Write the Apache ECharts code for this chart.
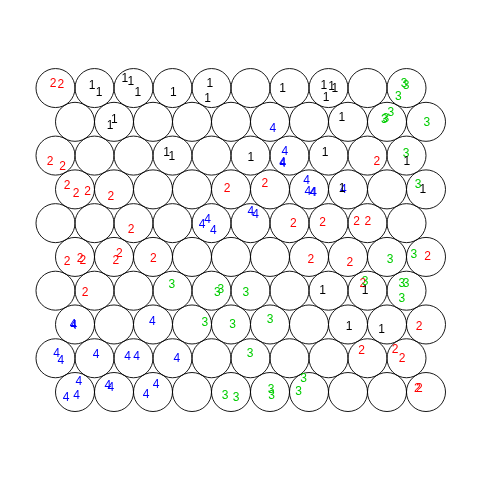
<!DOCTYPE html>
<html>
<head>
<meta charset="utf-8">
<script src="https://cdn.jsdelivr.net/npm/echarts@6/dist/echarts.min.js"></script>
<style>html,body{margin:0;padding:0;background:#fff}#c{width:480px;height:480px}</style>
</head>
<body>
<div id="c"></div>
<script>
// SOM grid size (hexagonal topology)
var xdim = 10;
var ydim = 10;

// class label of each mapped object
var classes = [
  2,2,1,1,1,1,1,1,1,1,1,1,1,1,1,3,3,3,
  1,1,4,1,3,3,3,3,
  2,2,1,1,1,4,4,4,1,2,3,1,
  2,2,2,2,2,2,4,4,4,4,4,1,3,1,
  2,4,4,4,4,4,2,2,2,2,
  2,2,2,2,2,2,2,2,3,3,2,
  2,3,3,3,3,1,2,3,1,3,3,3,
  4,4,4,3,3,3,1,1,2,
  4,4,4,4,4,4,3,2,2,2,
  4,4,4,4,4,4,4,3,3,3,3,3,3,2,2
];
// mapped position (map units) of each object, x
var pointX = [
  0.94,1.14,1.94,2.12,2.78,2.93,3.11,4.02,4.96,4.90,6.82,7.88,8.08,8.16,7.94,9.94,9.99,9.79,
  2.40,2.51,6.57,8.34,9.43,9.47,9.60,10.52,
  0.86,1.18,3.85,3.98,6.01,6.88,6.82,6.83,7.91,9.24,9.99,10.01,
  1.30,1.53,1.82,2.42,5.40,6.37,7.44,7.47,7.60,7.62,8.38,8.35,10.30,10.42,
  2.94,4.76,4.90,5.05,6.01,6.13,7.10,7.85,8.72,9.01,
  1.30,1.63,1.70,2.64,2.55,3.51,7.55,8.55,9.58,10.19,10.54,
  1.76,3.98,5.15,5.24,5.88,7.85,8.88,8.94,8.94,9.88,9.99,9.88,
  1.45,1.47,3.48,4.83,5.54,6.50,8.53,9.36,10.32,
  1.03,1.14,2.04,2.85,3.08,4.11,5.99,8.85,9.71,9.89,
  1.60,1.27,1.54,2.34,2.42,3.58,3.32,5.35,5.63,6.53,6.54,7.36,7.23,10.28,10.33
];
// mapped position (map units) of each object, y
var pointY = [
  8.76,8.74,8.71,8.53,8.91,8.82,8.55,8.53,8.76,8.40,8.64,8.71,8.69,8.65,8.42,8.78,8.71,8.44,
  7.69,7.84,7.63,7.90,7.84,7.87,8.04,7.78,
  6.77,6.64,7.01,6.90,6.88,7.03,6.74,6.73,7.00,6.77,6.99,6.77,
  6.15,5.94,6.00,5.87,6.09,6.20,6.29,6.00,5.98,5.98,6.06,6.09,6.17,6.05,
  5.02,5.15,5.28,5.00,5.49,5.42,5.17,5.21,5.23,5.23,
  4.21,4.29,4.23,4.41,4.23,4.29,4.27,4.17,4.27,4.38,4.34,
  3.41,3.61,3.41,3.50,3.41,3.46,3.65,3.69,3.46,3.65,3.65,3.27,
  2.58,2.57,2.67,2.65,2.60,2.73,2.54,2.47,2.54,
  1.84,1.66,1.82,1.77,1.76,1.71,1.86,1.92,1.96,1.71,
  1.12,0.73,0.77,1.02,0.98,1.06,0.81,0.76,0.72,0.92,0.76,1.22,0.87,0.94,0.94
];
var classColors = {1: '#000000', 2: '#FF0000', 3: '#00CD00', 4: '#0000FF'};

// unit centres of hexagonal grid
var units = [];
for (var r = 1; r <= ydim; r++) {
  for (var c = 1; c <= xdim; c++) {
    units.push([c + (r % 2 === 1 ? 0.5 : 0), r * Math.sqrt(3) / 2]);
  }
}

var pts = [];
for (var i = 0; i < classes.length; i++) {
  pts.push({
    value: [pointX[i], pointY[i]],
    label: { formatter: String(classes[i]), color: classColors[classes[i]] }
  });
}

var chart = echarts.init(document.getElementById('c'), null, {renderer: 'canvas'});
chart.setOption({
  animation: false,
  backgroundColor: '#ffffff',
  grid: { left: 16.5, right: 34.5, top: 35.8, bottom: 54.2 },
  xAxis: { type: 'value', min: 0, max: 11, show: false },
  yAxis: { type: 'value', min: 0, max: 10, show: false },
  series: [
    {
      type: 'scatter',
      data: units,
      symbol: 'circle',
      symbolSize: 39,
      silent: true,
      itemStyle: { color: 'none', borderColor: '#000000', borderWidth: 0.9, opacity: 1 },
      z: 1
    },
    {
      type: 'scatter',
      data: pts,
      symbolSize: 1,
      silent: true,
      itemStyle: { color: 'rgba(0,0,0,0)', opacity: 1 },
      label: {
        show: true,
        position: 'inside',
        opacity: 1,
        fontFamily: 'Liberation Sans, Arial, sans-serif',
        fontSize: 12,
        align: 'center',
        verticalAlign: 'middle',
        textBorderWidth: 0
      },
      labelLayout: { hideOverlap: false },
      z: 2
    }
  ]
});
</script>
</body>
</html>
